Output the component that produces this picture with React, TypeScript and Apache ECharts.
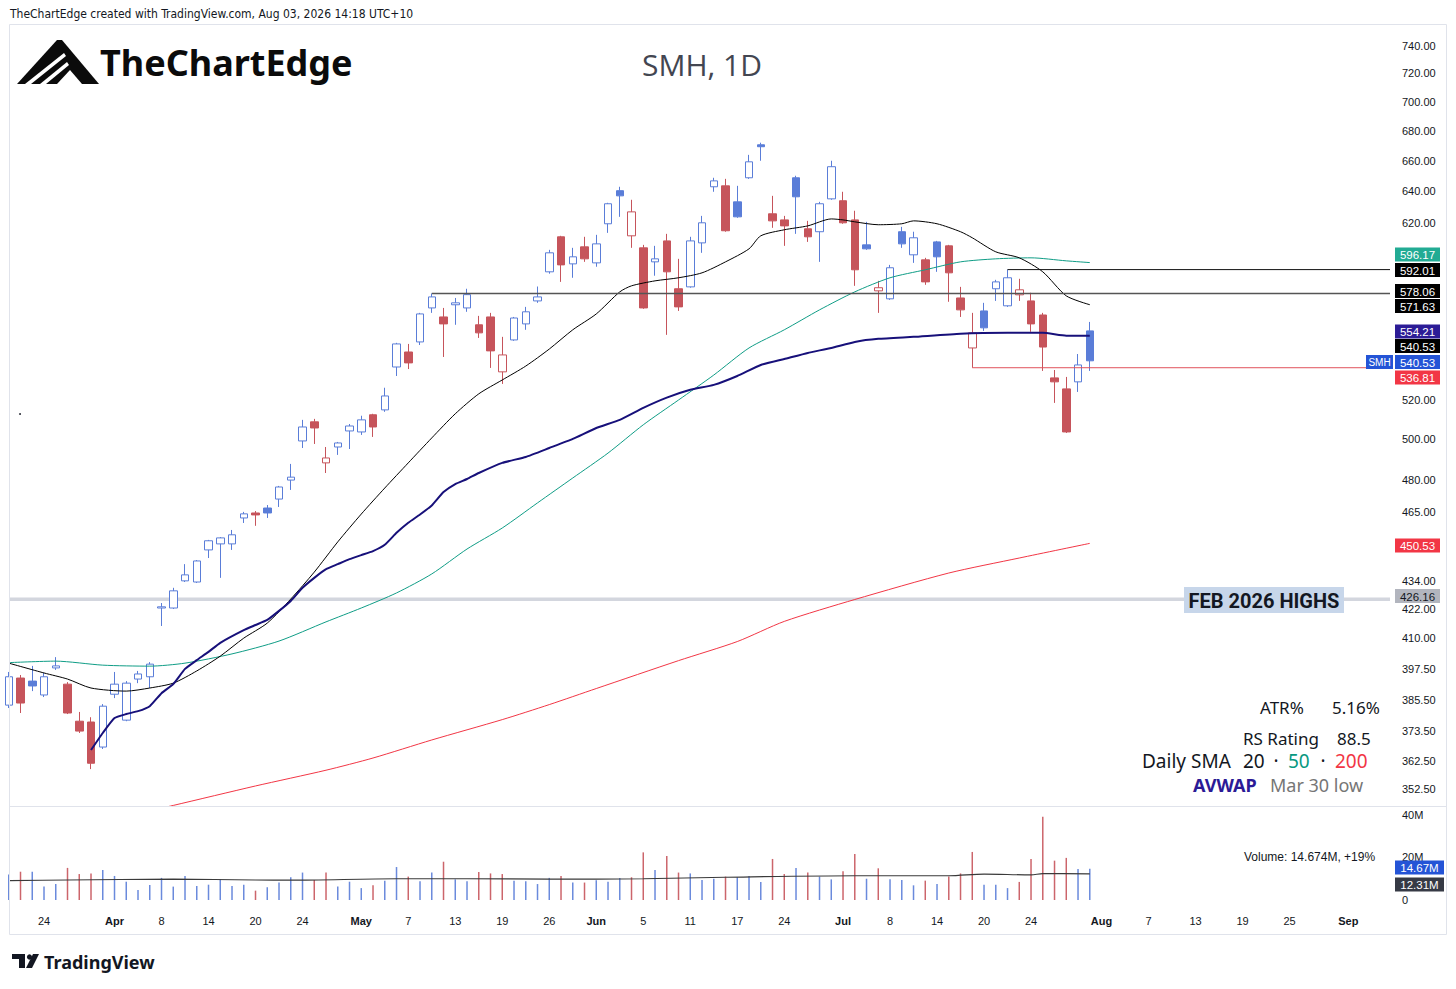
import React, { useEffect, useRef } from 'react';
import * as echarts from 'echarts';

// ---------- calendar ----------
const HOLIDAYS = ['2026-04-03', '2026-05-25', '2026-06-19', '2026-07-03', '2026-09-07'];
function tradingDays(start: string, end: string): string[] {
  const out: string[] = [];
  const d = new Date(start + 'T00:00:00Z');
  const e = new Date(end + 'T00:00:00Z');
  while (d <= e) {
    const wd = d.getUTCDay();
    const s = d.toISOString().slice(0, 10);
    if (wd !== 0 && wd !== 6 && HOLIDAYS.indexOf(s) < 0) out.push(s);
    d.setUTCDate(d.getUTCDate() + 1);
  }
  return out;
}
const DATES = tradingDays('2026-03-19', '2026-09-08');

const X_LABELS: [string, string][] = [
  ['2026-03-24', '24'], ['2026-04-01', 'Apr'], ['2026-04-08', '8'], ['2026-04-14', '14'], ['2026-04-20', '20'], ['2026-04-24', '24'],
  ['2026-05-01', 'May'], ['2026-05-07', '7'], ['2026-05-13', '13'], ['2026-05-19', '19'], ['2026-05-26', '26'],
  ['2026-06-01', 'Jun'], ['2026-06-05', '5'], ['2026-06-11', '11'], ['2026-06-17', '17'], ['2026-06-24', '24'],
  ['2026-07-01', 'Jul'], ['2026-07-08', '8'], ['2026-07-14', '14'], ['2026-07-20', '20'], ['2026-07-24', '24'],
  ['2026-08-03', 'Aug'], ['2026-08-07', '7'], ['2026-08-13', '13'], ['2026-08-19', '19'], ['2026-08-25', '25'], ['2026-09-01', 'Sep'],
];

// ---------- OHLC (from 2026-03-19) ----------
const OPEN = [
  383.4, 393.9, 392.7, 387.3, 397.9, 391.5, 377.3, 377.0, 367.7, 387.6,
  377.7, 393.5, 394.4, 422.4, 422.4, 434.0, 433.5, 447.6, 450.3, 450.3,
  462.1, 464.4, 466.7, 470.9, 479.9, 499.0, 508.6, 488.2, 496.0, 504.0,
  503.5, 512.2, 514.7, 537.2, 545.3, 550.8, 569.8, 564.7, 571.6, 569.8,
  560.3, 564.7, 534.6, 551.9, 560.8, 573.8, 590.7, 611.7, 595.4, 605.6,
  596.0, 619.7, 640.5, 612.3, 605.0, 596.6, 609.2, 580.8, 581.9, 608.0,
  643.0, 643.6, 633.4, 648.8, 670.5, 625.9, 622.1, 648.8, 616.6, 614.8,
  635.3, 634.1, 622.1, 606.8, 579.6, 575.0, 614.8, 600.8, 597.8, 608.6,
  606.2, 575.5, 547.5, 568.1, 580.8, 571.0, 577.3, 573.8, 565.8, 531.4,
  525.6, 529.3, 556.9,
];
const CLOSE = [
  394.4, 384.2, 390.8, 394.4, 398.7, 380.4, 373.6, 361.8, 383.0, 391.5,
  391.9, 395.5, 399.4, 422.9, 429.7, 436.6, 442.7, 451.7, 453.0, 454.4,
  464.0, 463.5, 464.4, 476.6, 481.3, 506.0, 505.5, 490.6, 498.0, 506.5,
  509.6, 506.0, 521.9, 549.7, 539.4, 566.4, 576.1, 560.8, 572.7, 577.4,
  555.8, 545.9, 543.7, 564.1, 567.6, 576.1, 602.0, 594.8, 599.6, 598.4,
  607.4, 632.2, 637.2, 627.1, 569.8, 598.4, 590.7, 570.4, 609.2, 620.3,
  646.8, 615.4, 624.0, 659.2, 669.2, 621.5, 618.4, 636.6, 611.7, 632.2,
  656.0, 620.3, 591.9, 604.4, 581.4, 593.1, 607.4, 611.1, 584.8, 599.6,
  590.1, 568.7, 555.8, 558.6, 584.8, 587.2, 580.2, 560.8, 548.0, 529.3,
  503.5, 538.3, 540.53,
];
const LOW = [
  382.3, 380.4, 388.8, 386.5, 397.1, 380.0, 372.9, 359.7, 367.0, 386.1,
  377.3, 391.9, 390.0, 414.9, 422.0, 433.5, 433.1, 444.0, 435.3, 447.6,
  459.8, 458.5, 462.1, 467.2, 475.2, 495.5, 497.5, 483.3, 492.1, 495.0,
  502.0, 501.0, 513.7, 532.4, 536.1, 549.1, 567.0, 542.6, 560.3, 567.6,
  553.0, 536.7, 528.2, 551.4, 557.5, 572.7, 589.6, 584.8, 587.2, 596.6,
  593.7, 614.1, 624.0, 605.0, 569.3, 588.4, 554.7, 568.1, 581.4, 602.0,
  639.8, 614.8, 623.4, 648.1, 659.9, 617.2, 606.2, 613.5, 608.6, 596.6,
  634.7, 619.7, 582.5, 603.8, 567.0, 574.4, 605.0, 596.0, 583.1, 590.7,
  573.3, 564.7, 536.81, 556.9, 573.8, 570.4, 573.8, 556.4, 535.1, 518.3,
  503.0, 524.0, 535.1,
];
const HIGH = [
  396.3, 395.1, 398.7, 395.9, 402.2, 392.3, 380.8, 378.8, 383.8, 396.3,
  392.7, 396.7, 400.2, 424.5, 431.0, 441.3, 443.1, 452.1, 453.4, 456.6,
  464.9, 465.3, 468.1, 477.1, 487.7, 509.6, 510.1, 496.0, 498.5, 507.5,
  511.7, 512.7, 526.2, 550.3, 549.7, 567.0, 578.06, 569.8, 575.5, 580.8,
  565.3, 567.0, 553.6, 564.7, 570.4, 582.1, 603.8, 612.3, 605.0, 611.7,
  612.9, 632.8, 643.0, 634.7, 606.8, 606.2, 613.5, 598.4, 611.7, 624.6,
  648.8, 648.1, 643.6, 663.8, 671.9, 637.2, 624.6, 650.1, 621.5, 633.4,
  659.9, 639.8, 627.8, 620.9, 585.4, 594.8, 617.8, 614.8, 599.0, 609.2,
  606.8, 581.9, 567.0, 572.7, 586.0, 592.01, 586.6, 578.5, 567.0, 535.6,
  531.9, 544.2, 561.9,
];
// volume, millions
const VOLUME = [
  12.0, 13.3, 13.3, 6.3, 7.5, 15.1, 12.2, 12.5, 14.1, 11.3,
  8.6, 4.7, 7.1, 10.4, 6.3, 11.3, 6.6, 7.2, 9.7, 6.6,
  7.2, 4.4, 6.0, 8.2, 10.7, 12.9, 9.4, 12.9, 6.3, 8.6,
  5.6, 6.9, 9.1, 15.5, 11.0, 8.8, 12.9, 18.0, 9.7, 8.8,
  13.2, 12.5, 12.2, 9.1, 8.8, 7.5, 10.4, 11.3, 8.2, 8.2,
  9.3, 8.6, 10.4, 10.7, 22.4, 14.1, 20.7, 12.9, 12.5, 9.4,
  10.0, 11.0, 10.7, 11.3, 8.5, 19.3, 12.2, 15.1, 12.9, 11.0,
  9.7, 13.5, 21.6, 10.0, 14.9, 9.7, 9.4, 6.9, 9.1, 7.5,
  11.0, 12.5, 22.6, 7.2, 7.2, 5.6, 8.5, 19.3, 39.2, 18.5,
  19.8, 14.6, 14.674,
];

// ---------- indicator readings [bar index, value] ----------
const SMA20: [number, number][] = [
  [0, 399.8], [3, 395.9], [5, 393.5], [7, 390.0], [10, 388.8], [12, 390.0], [14, 391.9], [16, 396.7], [18, 402.6],
  [20, 409.9], [22, 416.1], [24, 426.2], [26, 437.8], [28, 451.2], [30, 463.9], [32, 476.1], [34, 488.2], [36, 500.5],
  [38, 512.7], [40, 523.0], [42, 530.3], [44, 537.7], [46, 546.9], [48, 557.5], [50, 566.4], [52, 579.0], [53, 582.5],
  [55, 585.4], [57, 587.2], [59, 590.1], [61, 596.6], [63, 604.4], [64, 612.3], [66, 616.0], [68, 618.4], [70, 622.7],
  [71, 622.1], [72, 620.9], [74, 619.1], [76, 619.7], [77, 621.5], [79, 619.7], [81, 614.8], [82, 611.1], [84, 602.6],
  [86, 599.0], [88, 590.7], [90, 576.7], [92, 571.63],
];
const SMA50: [number, number][] = [
  [0, 400.0], [4, 400.6], [8, 399.0], [12, 398.6], [15, 399.8], [19, 403.5], [23, 408.7], [27, 416.6], [30, 422.4],
  [33, 428.8], [36, 437.0], [39, 448.0], [42, 457.5], [45, 469.1], [48, 480.9], [51, 493.0], [54, 507.1], [57, 519.8],
  [60, 532.9], [63, 547.5], [66, 557.5], [69, 568.7], [72, 579.0], [75, 587.2], [78, 591.9], [81, 596.6], [84, 598.4],
  [87, 599.0], [90, 597.2], [92, 596.17],
];
const SMA200: [number, number][] = [
  [12, 345.1], [14, 346.9], [21, 353.7], [27, 359.3], [31, 363.7], [36, 370.3], [42, 377.9], [46, 383.6], [50, 389.8],
  [57, 400.8], [62, 408.5], [66, 416.8], [72, 426.0], [80, 437.4], [86, 444.0], [92, 450.53],
];
const AVWAP: [number, number][] = [
  [7, 366.6], [8, 372.9], [9, 378.5], [10, 380.0], [11, 381.1], [12, 383.0], [13, 388.0], [14, 391.5], [15, 397.5],
  [16, 401.0], [17, 404.3], [18, 408.0], [20, 413.2], [21, 415.3], [22, 417.4], [23, 421.2], [24, 425.4], [25, 431.0],
  [26, 435.3], [27, 439.1], [28, 441.3], [29, 443.5], [30, 445.3], [31, 447.1], [32, 449.9], [33, 455.3], [34, 459.9],
  [35, 463.7], [36, 467.9], [37, 474.2], [38, 478.0], [39, 480.4], [40, 483.3], [42, 488.2], [44, 491.1], [46, 495.5],
  [48, 500.0], [50, 505.5], [52, 509.6], [54, 515.7], [56, 521.0], [58, 525.1], [60, 527.7], [62, 532.4], [64, 538.3],
  [66, 541.5], [68, 544.8], [70, 547.5], [72, 550.8], [74, 552.5], [77, 553.6], [81, 555.3], [85, 555.8], [88, 555.8],
  [90, 554.2], [92, 554.21],
];
const VOL_MA: [number, number][] = [
  [0, 9.1], [5, 9.4], [14, 9.8], [21, 9.4], [24, 9.3], [33, 10.0], [39, 10.0], [46, 9.8], [54, 10.0], [61, 10.7],
  [72, 11.4], [80, 11.4], [83, 12.2], [87, 11.8], [88, 12.4], [92, 12.31],
];

// horizontal levels
const LEVEL_PRICES = [578.06, 592.01, 536.81];
const LEVEL_START = ['2026-05-11', '2026-07-22', '2026-07-17'];
const FEB_HIGH = 426.16;

// axis ticks
const PRICE_TICKS = [740, 720, 700, 680, 660, 640, 620, 520, 500, 480, 465, 434, 422, 410, 397.5, 385.5, 373.5, 362.5, 352.5];
const VOL_TICKS = [0, 20, 40];

// visible ranges
const X_MIN = 0.106;
const X_MAX = 117.55;
const PRICE_MIN = 346.7;
const PRICE_MAX = 755.6;
const VOL_MAX = 44.2;

const BLUE = '#5a7dd8';
const RED = '#c6545b';
const FONT = '"Liberation Sans", Arial, sans-serif';
const NARROW = '"Liberation Sans Narrow", "DejaVu Sans Condensed", sans-serif';
const NOTO = '"Noto Sans", "Open Sans", sans-serif';

const L = Math.log;

function buildOption(): any {
  const labelByIndex: Record<number, string> = {};
  X_LABELS.forEach(([d, t]) => { labelByIndex[DATES.indexOf(d)] = t; });

  const isUp = (i: number) => i === 0 || CLOSE[i] >= CLOSE[i - 1];

  const candles = OPEN.map((o, i) => {
    const col = isUp(i) ? BLUE : RED;
    const hollow = CLOSE[i] > o;
    const fill = hollow ? '#ffffff' : col;
    return {
      value: [i, L(o), L(CLOSE[i]), L(LOW[i]), L(HIGH[i])],
      itemStyle: { color: fill, color0: fill, borderColor: col, borderColor0: col, borderWidth: 1 },
    };
  });

  const vols = VOLUME.map((v, i) => ({ value: [i, v], itemStyle: { color: isUp(i) ? BLUE : RED, opacity: 0.9 } }));

  const line = (pts: [number, number][], color: string, width: number, z: number, smooth = 0.25) => ({
    type: 'line', xAxisIndex: 0, yAxisIndex: 0, silent: true, symbol: 'none', showSymbol: false, smooth, z,
    data: pts.map(([i, v]) => [i, L(v)]),
    lineStyle: { color, width },
  });

  const levelColors = ['#555555', '#111111', '#e0525b'];
  const levelWidths = [1.5, 1, 1];
  const levels = LEVEL_PRICES.map((p, k) => ({
    type: 'line', xAxisIndex: 0, yAxisIndex: 0, silent: true, symbol: 'none', z: 6,
    data: [[DATES.indexOf(LEVEL_START[k]), L(p)], [X_MAX, L(p)]],
    lineStyle: { color: levelColors[k], width: levelWidths[k] },
  }));

  // ---------- graphics ----------
  const G: any[] = [];
  const text = (x: number, y: number, t: string, font: string, fill: string, align = 'left') => ({
    type: 'text', x, y, z: 100,
    style: { text: t, font, fill, textAlign: align, textVerticalAlign: 'middle' },
  });
  G.push(text(10, 14, 'TheChartEdge created with TradingView.com, Aug 03, 2026 14:18 UTC+10', `12px ${NARROW}`, '#131722'));
  G.push({ type: 'rect', z: 100, shape: { x: 9.5, y: 24.5, width: 1437, height: 910 }, style: { fill: 'none', stroke: '#e0e3eb', lineWidth: 1 } });
  G.push({ type: 'line', z: 100, shape: { x1: 10, y1: 806.5, x2: 1446, y2: 806.5 }, style: { stroke: '#e0e3eb', lineWidth: 1 } });

  // logo
  G.push({ type: 'polygon', z: 100, shape: { points: [[17, 84], [57, 40], [62, 40], [99, 84]] }, style: { fill: '#0b0b0b' } });
  G.push({ type: 'polygon', z: 101, shape: { points: [[25, 84], [64, 53], [66, 56], [31, 84]] }, style: { fill: '#ffffff' } });
  G.push({ type: 'polygon', z: 101, shape: { points: [[40, 84], [67, 62], [69, 65], [46, 84]] }, style: { fill: '#ffffff' } });
  G.push({ type: 'polygon', z: 101, shape: { points: [[57, 84], [70, 70], [82, 84]] }, style: { fill: '#ffffff' } });
  G.push(text(100, 62, 'TheChartEdge', `bold 36px ${NOTO}`, '#0b0b0b'));
  G.push(text(702, 64, 'SMH, 1D', `30px "Open Sans", sans-serif`, '#434651', 'center'));

  // FEB label
  G.push({ type: 'rect', z: 100, shape: { x: 1184, y: 587, width: 160, height: 26 }, style: { fill: '#c7d6ea' } });
  G.push(text(1264, 600.5, 'FEB 2026 HIGHS', `bold 20px Roboto, ${FONT}`, '#131722', 'center'));

  // legend
  G.push(text(1260, 707, 'ATR%', `17px ${NOTO}`, '#131722'));
  G.push(text(1332, 707, '5.16%', `17px ${NOTO}`, '#131722'));
  G.push(text(1243, 738, 'RS Rating', `17px ${NOTO}`, '#131722'));
  G.push(text(1337, 738, '88.5', `17px ${NOTO}`, '#131722'));
  G.push(text(1142, 761, 'Daily SMA', `19px ${NOTO}`, '#131722'));
  G.push(text(1243, 761, '20', `19px ${NOTO}`, '#131722'));
  G.push(text(1276, 761, '·', `19px ${NOTO}`, '#131722', 'center'));
  G.push(text(1288, 761, '50', `19px ${NOTO}`, '#089981'));
  G.push(text(1323, 761, '·', `19px ${NOTO}`, '#131722', 'center'));
  G.push(text(1335, 761, '200', `19px ${NOTO}`, '#f23645'));
  G.push(text(1193, 785, 'AVWAP', `bold 18px ${NOTO}`, '#2b1a96'));
  G.push(text(1270, 785, 'Mar 30 low', `18px ${NOTO}`, '#767676'));
  G.push(text(1244, 857, 'Volume: 14.674M, +19%', `12px ${FONT}`, '#131722'));

  // right-axis tags
  const TAGS: { t: string; y: number; bg: string; fg?: string; w?: number }[] = [
    { t: '596.17', y: 254.5, bg: '#22ab94' },
    { t: '592.01', y: 270, bg: '#000000' },
    { t: '578.06', y: 291, bg: '#000000' },
    { t: '571.63', y: 306, bg: '#000000' },
    { t: '554.21', y: 331.5, bg: '#2c1c96' },
    { t: '540.53', y: 346, bg: '#000000' },
    { t: '540.53', y: 362, bg: '#2454d6' },
    { t: '536.81', y: 377.5, bg: '#f23645' },
    { t: '450.53', y: 545.5, bg: '#f23645' },
    { t: '426.16', y: 596, bg: '#b2b5be', fg: '#131722' },
    { t: '14.67M', y: 867.5, bg: '#2454d6', w: 49 },
    { t: '12.31M', y: 884.5, bg: '#363a45', w: 49 },
  ];
  TAGS.forEach((tg) => {
    const w = tg.w || 45;
    G.push({ type: 'rect', z: 100, shape: { x: 1395, y: tg.y - 7, width: w, height: 14 }, style: { fill: tg.bg } });
    G.push(text(1395 + w / 2, tg.y + 0.5, tg.t, `11.5px ${FONT}`, tg.fg || '#ffffff', 'center'));
  });
  G.push({ type: 'rect', z: 100, shape: { x: 1366, y: 355, width: 27, height: 14 }, style: { fill: '#2454d6' } });
  G.push(text(1379.5, 362.5, 'SMH', `10px ${FONT}`, '#ffffff', 'center'));

  // tiny dot
  G.push({ type: 'circle', z: 100, shape: { cx: 20, cy: 414, r: 0.9 }, style: { fill: '#131722' } });

  // TradingView logo
  G.push({ type: 'rect', z: 100, shape: { x: 12, y: 954, width: 13, height: 5 }, style: { fill: '#131722' } });
  G.push({ type: 'rect', z: 100, shape: { x: 19, y: 954, width: 6, height: 14 }, style: { fill: '#131722' } });
  G.push({ type: 'circle', z: 100, shape: { cx: 29.5, cy: 957, r: 2.6 }, style: { fill: '#131722' } });
  G.push({ type: 'polygon', z: 100, shape: { points: [[26, 968], [33, 954], [39, 954], [32, 968]] }, style: { fill: '#131722' } });
  G.push(text(44, 962, 'TradingView', `bold 18px ${NOTO}`, '#131722'));

  return {
    animation: false,
    backgroundColor: '#ffffff',
    grid: [
      { left: 10, top: 25, width: 1380, height: 781 },
      { left: 10, top: 806, width: 1380, height: 94 },
    ],
    xAxis: [
      { type: 'value', gridIndex: 0, min: X_MIN, max: X_MAX, show: false },
      {
        type: 'value', gridIndex: 1, min: X_MIN, max: X_MAX,
        axisLine: { show: false }, axisTick: { show: false }, splitLine: { show: false },
        axisLabel: {
          customValues: X_LABELS.map(([d]) => DATES.indexOf(d)),
          margin: 15, fontSize: 11, fontFamily: FONT, color: '#131722',
          formatter: (v: number) => {
            const t = labelByIndex[Math.round(v)] || '';
            return /^[A-Z]/.test(t) ? `{m|${t}}` : t;
          },
          rich: { m: { fontWeight: 'bold', fontSize: 11, fontFamily: FONT, color: '#131722' } },
        },
      },
    ],
    yAxis: [
      {
        type: 'value', gridIndex: 0, position: 'right', min: L(PRICE_MIN), max: L(PRICE_MAX),
        axisLine: { show: false }, axisTick: { show: false }, splitLine: { show: false },
        axisLabel: {
          customValues: PRICE_TICKS.map((t) => L(t)),
          margin: 12, fontSize: 11, fontFamily: FONT, color: '#131722',
          formatter: (v: number) => Math.exp(v).toFixed(2),
        },
      },
      {
        type: 'value', gridIndex: 1, position: 'right', min: 0, max: VOL_MAX,
        axisLine: { show: false }, axisTick: { show: false }, splitLine: { show: false },
        axisLabel: {
          customValues: VOL_TICKS,
          margin: 12, fontSize: 11, fontFamily: FONT, color: '#131722',
          formatter: (v: number) => (v === 0 ? '0' : `${v}M`),
        },
      },
    ],
    series: [
      {
        type: 'line', xAxisIndex: 0, yAxisIndex: 0, silent: true, symbol: 'none', z: 1,
        data: [[X_MIN, L(FEB_HIGH)], [X_MAX, L(FEB_HIGH)]],
        lineStyle: { color: '#d3d6de', width: 3.5 },
      },
      { type: 'candlestick', xAxisIndex: 0, yAxisIndex: 0, barWidth: 8, z: 2, data: candles },
      line(SMA200, '#f23645', 1, 3),
      line(SMA50, '#0f9d86', 1, 3),
      line(SMA20, '#000000', 1, 4),
      line(AVWAP, '#17107a', 2, 5, 0.15),
      ...levels,
      { type: 'bar', xAxisIndex: 1, yAxisIndex: 1, barWidth: 1.5, data: vols, z: 2 },
      {
        type: 'line', xAxisIndex: 1, yAxisIndex: 1, silent: true, symbol: 'none', smooth: 0.3, z: 3,
        data: VOL_MA, lineStyle: { color: '#3a3a3a', width: 1.2 },
      },
    ],
    graphic: { elements: G },
  };
}

export default function App() {
  const ref = useRef<HTMLDivElement>(null);
  useEffect(() => {
    if (!ref.current) return;
    const chart = echarts.init(ref.current, null, { renderer: 'svg' });
    chart.setOption(buildOption());
    return () => chart.dispose();
  }, []);
  return (
    <div
      ref={ref}
      style={{ position: 'absolute', left: 0, top: 0, width: 1456, height: 989, background: '#ffffff' }}
    />
  );
}
